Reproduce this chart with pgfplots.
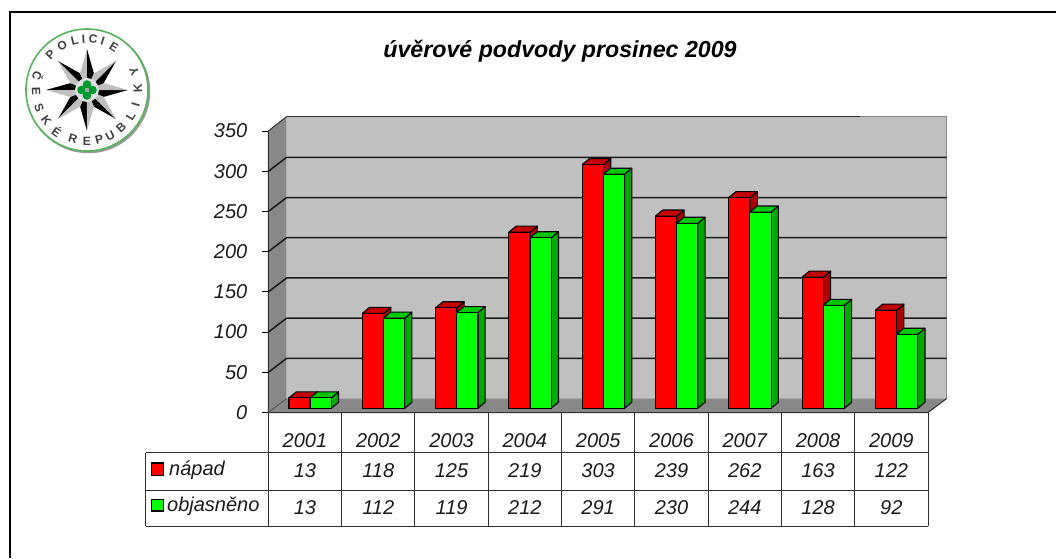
\documentclass[border=0pt]{standalone}
\usepackage{fontspec}
\setmainfont{Liberation Sans}
\usepackage{pgfplots}
\usepackage{pgfplotstable}
\pgfplotsset{compat=1.18}
\definecolor{wallback}{HTML}{C0C0C0}
\definecolor{walldark}{HTML}{888888}
\definecolor{redtop}{HTML}{C40000}
\definecolor{redside}{HTML}{AE0000}
\definecolor{greentop}{HTML}{00C800}
\definecolor{greenside}{HTML}{00A800}
\definecolor{tabline}{HTML}{303030}
\definecolor{txt}{HTML}{1A1A1A}
\definecolor{logogreen}{HTML}{58B45C}
\definecolor{logogreen2}{HTML}{009A30}
\newcommand\lab{\fontsize{20}{22}\selectfont\itshape}
\pgfplotstableread{
i year napad objasneno
0 2001 13 13
1 2002 118 112
2 2003 125 119
3 2004 219 212
4 2005 303 291
5 2006 239 230
6 2007 262 244
7 2008 163 128
8 2009 122 92
}\datatable
% side and top faces of one 3-D bar: #1 index, #2 value, #3 left edge offset, #4 top colour, #5 side colour
\newcommand\barfaces[5]{%
  \pgfmathsetmacro\xa{#1+#3}%
  \pgfmathsetmacro\xb{#1+#3+0.29}%
  \pgfmathsetmacro\xc{#1+#3+0.0995}%
  \pgfmathsetmacro\xd{#1+#3+0.3895}%
  \pgfmathsetmacro\yb{#2+7.5}%
  \edef\tmp{\noexpand\addplot[fill=#5,draw=black,line width=1.1pt,line join=round,yshift=4.2pt,forget plot]
    coordinates {(\xb,0) (\xd,7.5) (\xd,\yb) (\xb,#2) (\xb,0)};
    \noexpand\addplot[fill=#4,draw=black,line width=1.1pt,line join=round,yshift=4.2pt,forget plot]
    coordinates {(\xa,#2) (\xc,\yb) (\xd,\yb) (\xb,#2) (\xa,#2)};}%
  \tmp}
\begin{document}
\begin{tikzpicture}
\path[use as bounding box] (-268.3pt,-145.5pt) rectangle +(1056pt,558pt);
% everything in this scope in reference pixels
\begin{scope}[x=1pt,y=-1pt,shift={(-268.3pt,412.5pt)}]
  % frame
  \draw[black,line width=2pt] (1056,12) -- (10,12) -- (10,558);
  % walls
  \fill[wallback] (286.7,116.5) rectangle (946.7,398.5);
  \draw[walldark,line width=1.2pt] (286.7,116.5) -- (946.7,116.5) -- (946.7,398.5);
  \draw[tabline,line width=1pt] (286.7,116.5) -- (860,116.5);
  \fill[walldark] (268.3,131) -- (286.7,116.5) -- (286.7,398.5) -- (268.3,412.5) -- cycle;
  \fill[walldark] (268.3,412.5) -- (286.7,398.5) -- (946.7,398.5) -- (928,412.5) -- cycle;
  \draw[tabline,line width=1pt] (268.3,412.5) -- (268.3,131) -- (286.7,116.5);
  \draw[tabline,line width=1pt] (268.3,412.5) -- (928,412.5) -- (946.7,398.5);
  % grid lines on the walls
  \foreach \g in {0,1,...,6}{
    \pgfmathsetmacro\yf{412.5-\g*40.2}
    \pgfmathsetmacro\yb{398.5-\g*40.2}
    \ifnum\g>0
    \draw[black!90,line width=1.5pt] (268.3,\yf) -- (286.7,\yb) -- (946.7,\yb);
    \else
    \draw[black!70,line width=.8pt] (268.3,\yf) -- (286.7,\yb);
    \fi
  }
  % table grid
  \draw[tabline,line width=1pt] (268.3,412.5) -- (268.3,526);
  \foreach \k in {1,...,9}{
    \pgfmathsetmacro\xk{268.3+\k*73.3}
    \draw[tabline,line width=1pt] (\xk,412.5) -- (\xk,526);
  }
  \draw[tabline,line width=1pt] (146,452.7) -- (928,452.7);
  \draw[tabline,line width=1pt] (146,490.3) -- (928,490.3);
  \draw[tabline,line width=1pt] (146,526) -- (928,526);
  \draw[tabline,line width=1pt] (146,452.7) -- (146,526);
\end{scope}
\begin{axis}[
  at={(0pt,0pt)},anchor=south west,
  scale only axis,width=659.7pt,height=281.5pt,
  xmin=0,xmax=9,ymin=0,ymax=350,clip=false,
  axis line style={draw=none},
  ytick={0,50,...,350},ytick pos=left,
  y tick style={draw=black,line width=.9pt},
  x tick style={draw=none},
  tick align=outside,major tick length=6pt,
  xtick={0.5,1.5,...,8.5},
  xticklabels={2001,2002,2003,2004,2005,2006,2007,2008,2009},
  xticklabel style={font=\lab,text=txt,anchor=center,yshift=-22pt},
  yticklabel style={font=\lab,text=txt,xshift=-11.5pt,/pgf/number format/assume math mode=true},
  xtick pos=bottom,
]
\pgfplotsinvokeforeach{0,...,8}{%
  \pgfplotstablegetelem{#1}{napad}\of\datatable
  \let\vv\pgfplotsretval
  \barfaces{#1}{\vv}{0.2824}{redtop}{redside}}
\addplot[ybar,bar width=21pt,bar shift=31.2pt,fill=red,draw=black,line width=1.1pt,yshift=4.2pt,forget plot] table[x=i,y=napad]{\datatable};
\pgfplotsinvokeforeach{0,...,8}{%
  \pgfplotstablegetelem{#1}{objasneno}\of\datatable
  \let\vv\pgfplotsretval
  \barfaces{#1}{\vv}{0.569}{greentop}{greenside}}
\addplot[ybar,bar width=21.3pt,bar shift=52.4pt,fill=green,draw=black,line width=1.1pt,yshift=4.2pt,forget plot] table[x=i,y=objasneno]{\datatable};
\end{axis}
\begin{scope}[x=1pt,y=-1pt,shift={(-268.3pt,412.5pt)}]
  % title
  \node[font=\fontsize{23.2}{26}\selectfont\bfseries\itshape,text=black] at (560,51) {úvěrové podvody prosinec 2009};
  % table text
  \foreach \k/\a/\b in {0/13/13,1/118/112,2/125/119,3/219/212,4/303/291,5/239/230,6/262/244,7/163/128,8/122/92}{
    \pgfmathsetmacro\xk{268.3+(\k+.5)*73.3}
    \node[font=\lab,text=txt] at (\xk,470.5) {\a};
    \node[font=\lab,text=txt] at (\xk,507.5) {\b};
  }
  \node[font=\lab,text=txt,anchor=west,inner sep=0pt] at (169,470) {nápad};
  \node[font=\lab,text=txt,anchor=west,inner sep=0pt] at (167,506) {objasněno};
  \draw[black,line width=1.2pt,fill=red] (151.5,463) rectangle (163.5,475.5);
  \draw[black,line width=1.2pt,fill=green] (151.5,499.5) rectangle (163.5,511);
  % police badge
  \draw[black!40,line width=2.5pt] (88.5,91.5) circle[radius=60.5];
  \fill[white] (87,90) circle[radius=60.5];
  \draw[logogreen,line width=1.6pt] (87,90) circle[radius=61];
  \foreach \a in {0,45,...,315}{
    \fill[black] (87,90) -- ({87+41*cos(\a)},{90+41*sin(\a)}) -- ({87+18*cos(\a+22.5)},{90+18*sin(\a+22.5)}) -- cycle;
    \fill[black!25] (87,90) -- ({87+41*cos(\a)},{90+41*sin(\a)}) -- ({87+18*cos(\a-22.5)},{90+18*sin(\a-22.5)}) -- cycle;
  }
  \fill[black!12] (87,90) circle[radius=12];
  \foreach \a in {0,90,180,270}{
    \fill[logogreen2] ({87+5.5*cos(\a)},{90+5.5*sin(\a)}) circle[radius=4.3];
  }
  \fill[black!35] (87,90) circle[radius=2];
  \foreach \c/\p in {P/-46,O/-29,L/-14,I/-4,C/7,I/18,E/32}{
    \node[font=\fontsize{12}{12}\selectfont\bfseries,text=black!75,inner sep=0pt,rotate=-\p]
      at ({87+51*sin(\p)},{90-51*cos(\p)}) {\c};
  }
  \foreach \c/\p in {Č/-106,E/-88,S/-70,K/-53,É/-36,R/-16,E/0,P/14,U/27,B/42,L/59,I/73,K/92,Y/112}{
    \node[font=\fontsize{12}{12}\selectfont\bfseries,text=black!75,inner sep=0pt,rotate=\p]
      at ({87+51*sin(\p)},{90+51*cos(\p)}) {\c};
  }
\end{scope}
\end{tikzpicture}
\end{document}
